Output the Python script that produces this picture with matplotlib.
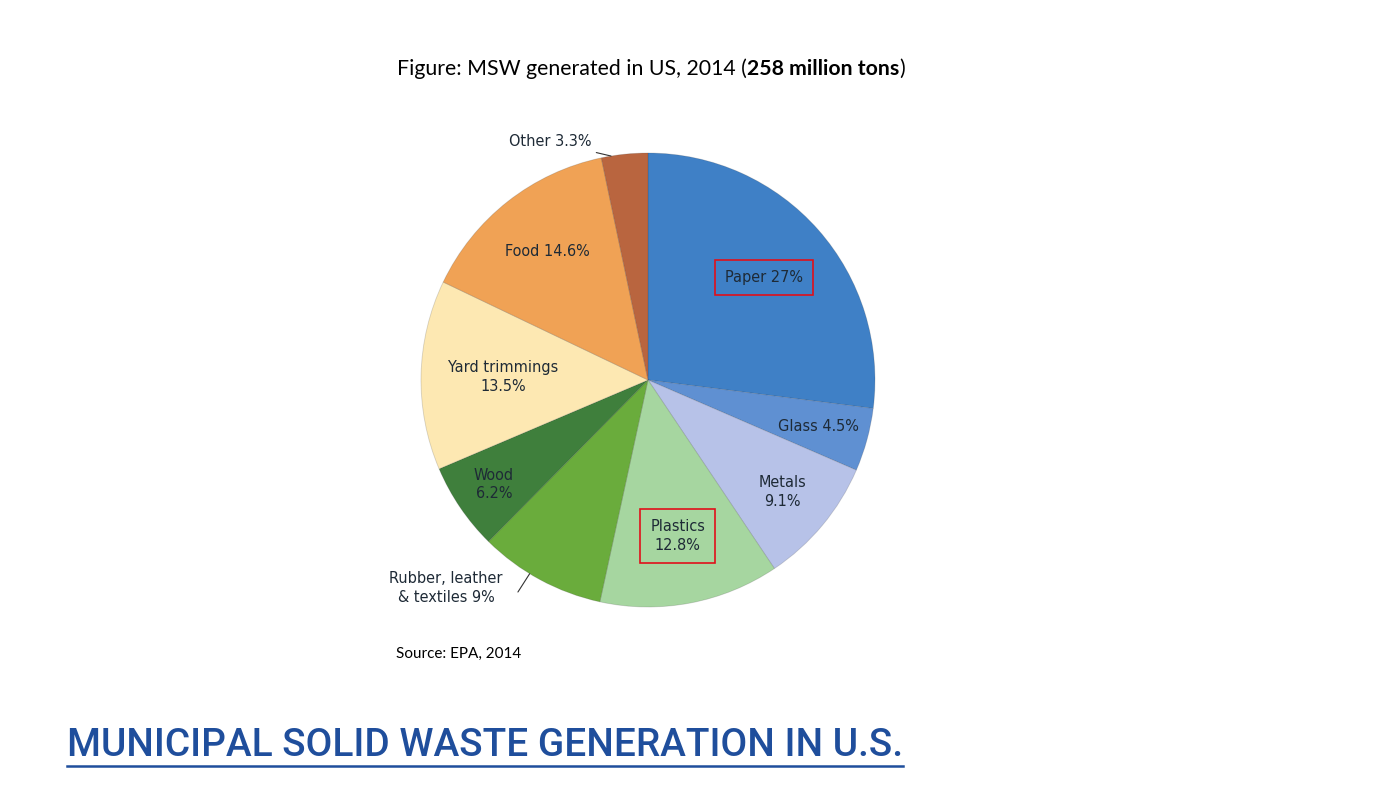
import numpy as np
import matplotlib
matplotlib.use("Agg")
import matplotlib.pyplot as plt

# slices, clockwise from the top
names = ["Paper", "Glass", "Metals", "Plastics", "Rubber, leather\n& textiles", "Wood",
         "Yard trimmings", "Food", "Other"]
shares = [27, 4.5, 9.1, 12.8, 9, 6.2, 13.5, 14.6, 3.3]
share_text = ["27%", "4.5%", "9.1%", "12.8%", "9%", "6.2%", "13.5%", "14.6%", "3.3%"]
colors = ["#3f80c6", "#5f90d2", "#b7c2e8", "#a6d6a0", "#6aac3c", "#3f7f3c",
          "#fde8b2", "#f0a255", "#b9653f"]

label_kw = dict(fontsize=11.6, color="#1e2a36", family="DejaVu Sans",
                fontstretch="condensed", linespacing=1.3)

fig = plt.figure(figsize=(14, 7.87), dpi=100)
fig.patch.set_facecolor("white")

ax = fig.add_axes([421 / 1400, 1 - 607 / 787, 454 / 1400, 454 / 787])
wedges, _ = ax.pie(shares, colors=colors, startangle=90, counterclock=False,
                   radius=1, wedgeprops=dict(edgecolor="#30303030", linewidth=0.6))
ax.set_xlim(-1, 1)
ax.set_ylim(-1, 1)
ax.set_aspect("equal")
ax.axis("off")

# label placement: (radius factor, one line?, red box?)
inside = {0: (0.68, True, True), 1: (0.78, True, False), 2: (0.77, False, False),
          3: (0.70, False, True), 5: (0.82, False, False), 6: (0.64, False, False),
          7: (0.72, True, False)}
for i, w in enumerate(wedges):
    mid = np.deg2rad((w.theta1 + w.theta2) / 2)
    if i in inside:
        r, oneline, boxed = inside[i]
        txt = names[i] + (" " if oneline else "\n") + share_text[i]
        bbox = None
        if boxed:
            bbox = dict(boxstyle="square,pad=0.62", fc="none", ec="#e0101a", lw=1.2)
        ax.text(r * np.cos(mid), r * np.sin(mid), txt, ha="center", va="center",
                bbox=bbox, **label_kw)
    elif i == 4:
        edge = (np.cos(mid - 0.052), np.sin(mid - 0.052))
        ax.annotate("", xy=edge, xytext=(-0.573, -0.934),
                    arrowprops=dict(arrowstyle="-", color="#333333", lw=0.8,
                                    shrinkA=0, shrinkB=0))
        ax.text(-0.639, -0.916, names[i] + " " + share_text[i], ha="right",
                va="center", multialignment="center", **label_kw)
    else:
        ax.annotate(names[i] + " " + share_text[i],
                    xy=(np.cos(mid + 0.06), np.sin(mid + 0.06)),
                    xytext=(-0.25, 1.05), ha="right", va="center",
                    arrowprops=dict(arrowstyle="-", color="#333333", lw=0.8,
                                    shrinkA=2, shrinkB=0), **label_kw)

# figure caption above the pie, bold part drawn right after the plain part
cap_size = 15.3
base_y = 1 - 75 / 787
t1 = fig.text(397 / 1400, base_y, "Figure: MSW generated in US, 2014 (",
              fontsize=cap_size, family="Lato", va="baseline", ha="left")
t2 = fig.text(0, 0, "258 million tons", fontsize=cap_size, family="Lato",
              fontweight="bold", va="baseline", ha="left")
t3 = fig.text(0, 0, ")", fontsize=cap_size, family="Lato", va="baseline", ha="left")

fig.text(396 / 1400, 1 - 654 / 787, "Source: EPA, 2014", fontsize=11,
         family="Lato", va="center", ha="left")

head = fig.text(67 / 1400, 1 - 746 / 787, "MUNICIPAL SOLID WASTE GENERATION IN U.S.",
                fontsize=27.9, family="Roboto", fontweight="medium", color="#1f4e9c",
                va="center", ha="left")

fig.canvas.draw()
r = fig.canvas.get_renderer()
inv = fig.transFigure.inverted()
bb1 = t1.get_window_extent(r)
t2.set_position((inv.transform((bb1.x1, 0))[0], base_y))
fig.canvas.draw()
bb2 = t2.get_window_extent(r)
t3.set_position((inv.transform((bb2.x1, 0))[0], base_y))

hb = head.get_window_extent(r)
x0, y0 = inv.transform((hb.x0, 787 - 766))
x1, _ = inv.transform((hb.x1, 0))
fig.add_artist(plt.Line2D([x0, x1], [y0, y0], transform=fig.transFigure,
                          color="#1f4e9c", lw=1.8))

fig.savefig("out.png", dpi=100)
